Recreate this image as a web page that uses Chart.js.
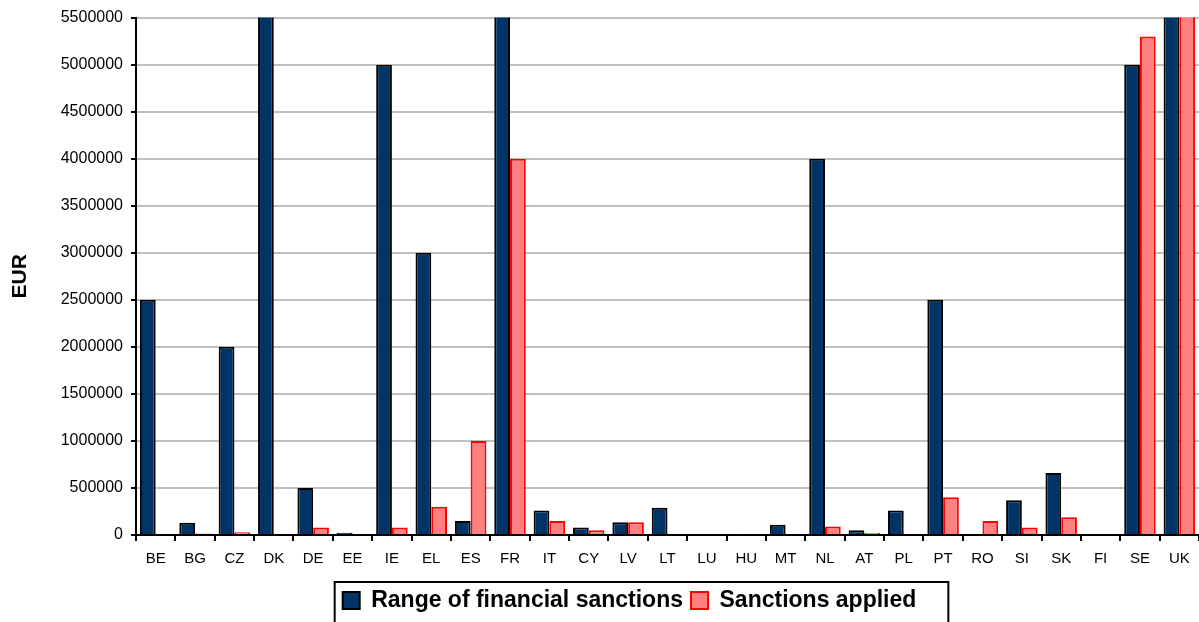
<!DOCTYPE html>
<html>
<head>
<meta charset="utf-8">
<script src="https://cdn.jsdelivr.net/npm/chart.js"></script>
<style>
  html, body { margin: 0; padding: 0; background: #fff; }
  #wrap { width: 1199px; height: 622px; }
</style>
</head>
<body>
<div id="wrap"><canvas id="sanctionsChart" width="1199" height="622"></canvas></div>
<script>
// chart data
const countries = ['BE','BG','CZ','DK','DE','EE','IE','EL','ES','FR','IT','CY','LV','LT','LU','HU','MT','NL','AT','PL','PT','RO','SI','SK','FI','SE','UK'];
const rangeOfSanctions = [2500000,130000,2000000,6000000,500000,25000,5000000,3000000,150000,6000000,260000,80000,135000,290000,10000,5000,110000,4000000,50000,260000,2500000,8000,370000,660000,0,5000000,6000000];
const sanctionsApplied = [0,15000,30000,0,80000,0,80000,300000,1000000,4000000,150000,50000,135000,0,0,10000,0,90000,25000,0,400000,150000,80000,190000,0,5300000,6000000];
const yTicks = [0,500000,1000000,1500000,2000000,2500000,3000000,3500000,4000000,4500000,5000000,5500000];

const FONT = "'Liberation Sans', Arial, sans-serif";

// legend sits a bit right of centre in the original, and has a frame
const legendBox = {
  id: 'legendBox',
  afterLayout(chart) {
    const l = chart.legend;
    if (!l) return;
    l.left += 30;
    l.right += 30;
  },
  afterDraw(chart) {
    const l = chart.legend;
    if (!l || !l.legendHitBoxes.length) return;
    const hb = l.legendHitBoxes;
    const last = hb[hb.length - 1];
    const x0 = hb[0].left - 8;
    const x1 = last.left + last.width + 32;
    const c = chart.ctx;
    c.save();
    c.strokeStyle = '#000';
    c.lineWidth = 2;
    c.strokeRect(x0, l.top + 1, x1 - x0, l.height + 10);
    c.restore();
  }
};

window.addEventListener('DOMContentLoaded', function () {
  const ctx = document.getElementById('sanctionsChart').getContext('2d');
  new Chart(ctx, {
    type: 'bar',
    data: {
      labels: countries,
      datasets: [{
        label: 'Range of financial sanctions',
        data: rangeOfSanctions,
        backgroundColor: '#003366',
        borderColor: '#000000',
        borderWidth: 2,
        borderSkipped: 'bottom'
      }, {
        label: 'Sanctions applied',
        data: sanctionsApplied,
        backgroundColor: '#FF8080',
        borderColor: '#FF0000',
        borderWidth: 2,
        borderSkipped: 'bottom'
      }]
    },
    options: {
      responsive: false,
      animation: false,
      datasets: { bar: { categoryPercentage: 0.8, barPercentage: 1.0 } },
      layout: { padding: { top: 17, right: 0, left: 0, bottom: 0 } },
      plugins: {
        legend: {
          position: 'bottom',
          labels: {
            color: '#000',
            font: { family: FONT, size: 23, weight: 'bold' },
            boxWidth: 17,
            boxHeight: 17,
            padding: 8
          }
        },
        tooltip: { enabled: false }
      },
      scales: {
        x: {
          offset: true,
          afterFit: function (scale) { scale.height = 46; },
          grid: { display: true, drawOnChartArea: false, offset: true, color: '#000', tickLength: 6, lineWidth: 2 },
          border: { color: '#000', width: 2 },
          ticks: { color: '#000', font: { family: FONT, size: 15 }, maxRotation: 0, autoSkip: false, padding: 9 }
        },
        y: {
          min: 0,
          max: 5500000,
          afterBuildTicks: function (scale) { scale.ticks = yTicks.map(v => ({ value: v })); },
          afterFit: function (scale) { scale.width = 136; },
          grid: { color: '#c0c0c0', lineWidth: 2, tickColor: '#000', tickLength: 5 },
          border: { color: '#000', width: 2 },
          ticks: { color: '#000', font: { family: FONT, size: 16 }, padding: 8, callback: v => String(v) },
          title: { display: true, text: 'EUR', color: '#000', font: { family: FONT, size: 21, weight: 'bold' }, padding: { top: 8, bottom: 2 } }
        }
      }
    },
    plugins: [legendBox]
  });
});
</script>
</body>
</html>
